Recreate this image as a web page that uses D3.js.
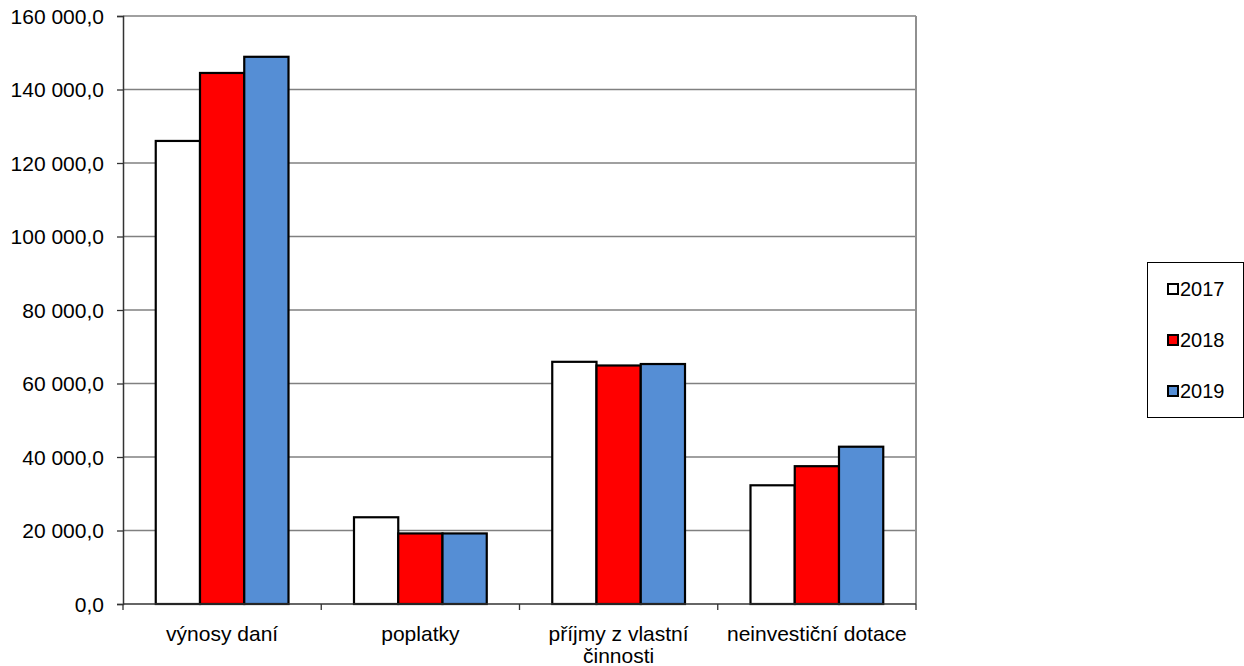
<!DOCTYPE html>
<html>
<head>
<meta charset="utf-8">
<script src="https://cdn.jsdelivr.net/npm/d3@7"></script>
<style>
  body { margin: 0; background: #fff; }
  text { font-family: "Liberation Sans", Arial, sans-serif; font-size: 21px; fill: #000; }
</style>
</head>
<body>
<div class="chart"></div>
<script>
var categories = ["výnosy daní", "poplatky", "příjmy z vlastní|činnosti", "neinvestiční dotace"];
var years = ["2017", "2018", "2019"];
var values2017 = [126000, 23600, 65900, 32300];
var values2018 = [144500, 19200, 64900, 37500];
var values2019 = [148900, 19200, 65300, 42800];
var yTicks = [0, 20000, 40000, 60000, 80000, 100000, 120000, 140000, 160000];
var colors = ["#ffffff", "#ff0000", "#558ed5"];

var series = [values2017, values2018, values2019];
var W = 1244, H = 666;
var plotL = 123, plotR = 916, plotT = 16, plotB = 604;

var svg = d3.select(".chart").append("svg")
  .attr("width", W).attr("height", H);

var x = d3.scaleBand().domain(categories).range([plotL, plotR]).paddingInner(0).paddingOuter(0);
var y = d3.scaleLinear().domain([0, 160000]).range([plotB, plotT]);
var inner = d3.scaleBand().domain(years).range([0, x.bandwidth()]).paddingOuter(0.74).paddingInner(0);

// grid
svg.append("g").selectAll("line").data(yTicks.slice(1)).enter().append("line")
  .attr("x1", plotL).attr("x2", plotR)
  .attr("y1", function(d){ return y(d); }).attr("y2", function(d){ return y(d); })
  .attr("stroke", "#808080").attr("stroke-width", 1.3);
// right border
svg.append("line").attr("x1", plotR).attr("x2", plotR).attr("y1", plotT).attr("y2", plotB)
  .attr("stroke", "#909090").attr("stroke-width", 2);

// bars
categories.forEach(function(c, i){
  years.forEach(function(yr, j){
    var v = series[j][i];
    svg.append("rect")
      .attr("x", x(c) + inner(yr))
      .attr("y", y(v))
      .attr("width", inner.bandwidth())
      .attr("height", y(0) - y(v))
      .attr("fill", colors[j])
      .attr("stroke", "#000").attr("stroke-width", 2.2);
  });
});

// y axis
var fmt = function(d){ return d3.format(",.1f")(d).replace(/,/g, " ").replace(".", ","); };
var yAxis = svg.append("g").attr("transform", "translate(" + plotL + ",0)")
  .call(d3.axisLeft(y).tickValues(yTicks).tickSize(6).tickFormat(fmt));
yAxis.select(".domain").attr("stroke", "#333").attr("stroke-width", 1.5);
yAxis.selectAll(".tick line").attr("stroke", "#333").attr("stroke-width", 1.3);
yAxis.selectAll(".tick text").attr("x", -19).attr("dy", "0.35em")
  .style("font-family", "Liberation Sans, Arial, sans-serif").style("font-size", "21px");

// x axis
svg.append("line").attr("x1", plotL).attr("x2", plotR).attr("y1", plotB).attr("y2", plotB)
  .attr("stroke", "#333").attr("stroke-width", 1.5);
var bounds = categories.map(function(c){ return x(c); }).concat([plotR]);
svg.append("g").selectAll("line").data(bounds).enter().append("line")
  .attr("x1", function(d){ return d; }).attr("x2", function(d){ return d; })
  .attr("y1", plotB).attr("y2", plotB + 6)
  .attr("stroke", "#333").attr("stroke-width", 1.3);
categories.forEach(function(c){
  var t = svg.append("text").attr("text-anchor", "middle")
    .attr("x", x(c) + x.bandwidth() / 2).attr("y", 641);
  c.split("|").forEach(function(part, k){
    t.append("tspan").attr("x", x(c) + x.bandwidth() / 2).attr("dy", k ? 22 : 0).text(part);
  });
});

// legend
var lg = svg.append("g");
lg.append("rect").attr("x", 1147.5).attr("y", 262.5).attr("width", 96).attr("height", 155)
  .attr("fill", "#fff").attr("stroke", "#000").attr("stroke-width", 1);
years.forEach(function(yr, j){
  var cy = 289 + j * 51;
  lg.append("rect").attr("x", 1168).attr("y", cy - 5).attr("width", 10).attr("height", 10)
    .attr("fill", colors[j]).attr("stroke", "#000").attr("stroke-width", 2);
  lg.append("text").attr("x", 1180).attr("y", cy).attr("dy", "0.35em")
    .style("font-size", "20px").text(yr);
});
</script>
</body>
</html>
